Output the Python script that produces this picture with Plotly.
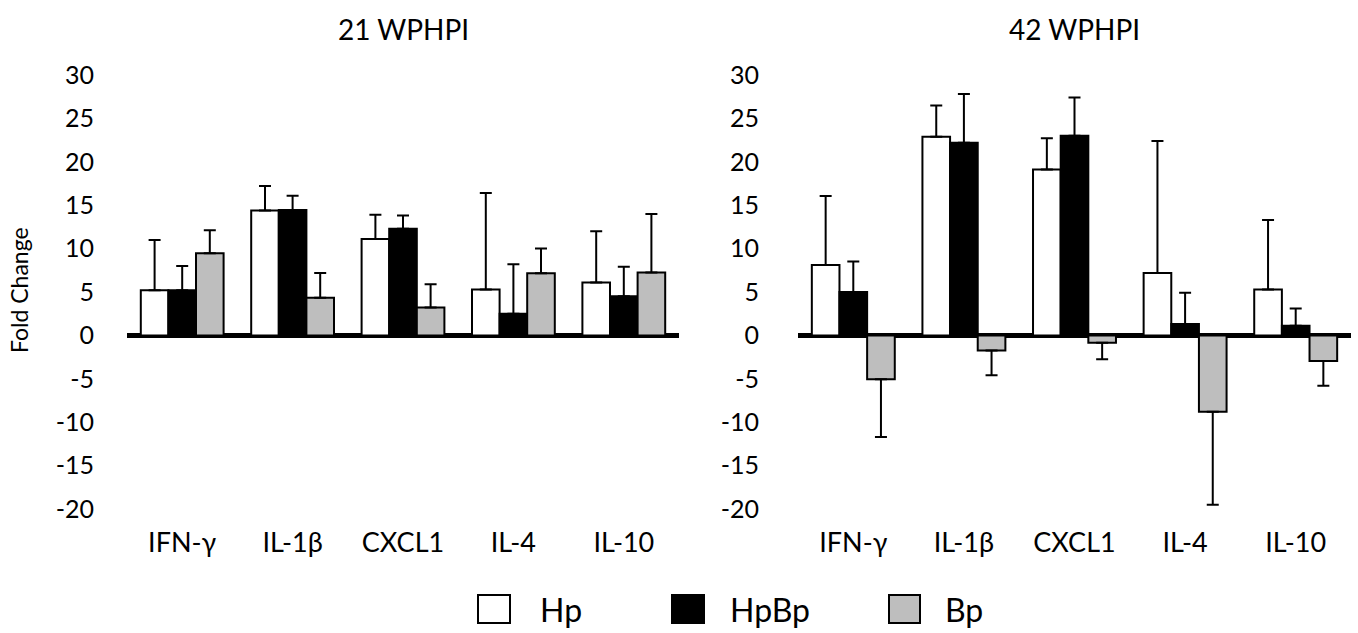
import plotly.graph_objects as go

W, H = 1358, 633

categories = ["IFN-γ", "IL-1β", "CXCL1", "IL-4", "IL-10"]
series_names = ["Hp", "HpBp", "Bp"]
series_colors = ["#ffffff", "#000000", "#bebebe"]

# 21 WPHPI: bar values and error-bar ends
wk21_hp = [5.2, 14.4, 11.1, 5.3, 6.1]
wk21_hp_err = [11.0, 17.2, 13.9, 16.4, 12.0]
wk21_hpbp = [5.2, 14.45, 12.3, 2.5, 4.5]
wk21_hpbp_err = [8.0, 16.1, 13.8, 8.2, 7.9]
wk21_bp = [9.45, 4.35, 3.2, 7.15, 7.25]
wk21_bp_err = [12.1, 7.2, 5.9, 10.0, 14.0]

# 42 WPHPI
wk42_hp = [8.1, 22.9, 19.1, 7.2, 5.3]
wk42_hp_err = [16.05, 26.5, 22.7, 22.4, 13.3]
wk42_hpbp = [5.0, 22.2, 23.0, 1.3, 1.1]
wk42_hpbp_err = [8.5, 27.8, 27.4, 4.9, 3.1]
wk42_bp = [-5.05, -1.75, -0.85, -8.8, -2.95]
wk42_bp_err = [-11.7, -4.6, -2.75, -19.5, -5.8]

panel_titles = ["21 WPHPI", "42 WPHPI"]
y_title = "Fold Change"
y_tickvals = [-20, -15, -10, -5, 0, 5, 10, 15, 20, 25, 30]
y_ticktext = ["-20", "-15", "-10", "-5", "0", "5", "10", "15", "20", "25", "30"]

FONT = "Lato, 'Open Sans', sans-serif"


def fx(p):
    return p / W


def fy(p):
    return 1 - p / H


fig = go.Figure()

panels = [
    ([wk21_hp, wk21_hpbp, wk21_bp], [wk21_hp_err, wk21_hpbp_err, wk21_bp_err], "x", "y"),
    ([wk42_hp, wk42_hpbp, wk42_bp], [wk42_hp_err, wk42_hpbp_err, wk42_bp_err], "x2", "y2"),
]

for vals_list, err_list, xa, ya in panels:
    for name, color, vals, errs in zip(series_names, series_colors, vals_list, err_list):
        plus = [max(e - v, 0) if v >= 0 else 0 for v, e in zip(vals, errs)]
        minus = [max(v - e, 0) if v < 0 else 0 for v, e in zip(vals, errs)]
        fig.add_trace(go.Bar(
            x=categories, y=vals, name=name, xaxis=xa, yaxis=ya,
            marker=dict(color=color, line=dict(color="black", width=2)),
            error_y=dict(type="data", symmetric=False, array=plus, arrayminus=minus,
                         color="black", thickness=2, width=6),
            showlegend=False,
        ))

x_domains = [[fx(127), fx(679)], [fx(798), fx(1351)]]
y_domain = [fy(509), fy(75)]
y_ticklens = [27, 33]

common_x = dict(type="category", showline=False, showgrid=False, zeroline=False,
                ticks="outside", ticklen=10, tickcolor="rgba(0,0,0,0)",
                tickfont=dict(family=FONT, size=27, color="black"),
                automargin=False, fixedrange=True)


def yax(ticklen):
    return dict(range=[-20, 30], tickmode="array", tickvals=y_tickvals, ticktext=y_ticktext,
                showgrid=False, showline=False, zeroline=True, zerolinecolor="black",
                zerolinewidth=5, ticks="outside", ticklen=ticklen,
                tickcolor="rgba(0,0,0,0)",
                tickfont=dict(family=FONT, size=25, color="black"),
                automargin=False, fixedrange=True, domain=y_domain)


annotations = []
title_centers = [(127 + 679) / 2, (798 + 1351) / 2]
for t, cx in zip(panel_titles, title_centers):
    annotations.append(dict(text=t, x=fx(cx), y=fy(29), xref="paper", yref="paper",
                            xanchor="center", yanchor="middle", showarrow=False,
                            font=dict(family=FONT, size=28, color="black")))
annotations.append(dict(text=y_title, x=fx(19), y=fy(290), xref="paper", yref="paper",
                        xanchor="center", yanchor="middle", showarrow=False, textangle=-90,
                        font=dict(family=FONT, size=23, color="black")))

# legend drawn as boxes and labels
legend_boxes = [(478, 510), (672, 704), (889, 920)]
legend_text_x = [538, 728, 943]
shapes = []
for (x0, x1), tx, name, color in zip(legend_boxes, legend_text_x, series_names, series_colors):
    shapes.append(dict(type="rect", xref="paper", yref="paper", x0=fx(x0), x1=fx(x1),
                       y0=fy(623), y1=fy(595), fillcolor=color,
                       line=dict(color="black", width=2)))
    annotations.append(dict(text=name, x=fx(tx), y=fy(609), xref="paper", yref="paper",
                            xanchor="left", yanchor="middle", showarrow=False,
                            font=dict(family=FONT, size=32, color="black")))

fig.update_layout(
    width=W, height=H, autosize=False,
    margin=dict(l=0, r=0, t=0, b=0, pad=0),
    paper_bgcolor="white", plot_bgcolor="white",
    barmode="group", bargap=0.25, bargroupgap=0,
    showlegend=False,
    xaxis=dict(domain=x_domains[0], anchor="y", **common_x),
    xaxis2=dict(domain=x_domains[1], anchor="y2", **common_x),
    yaxis=dict(anchor="x", **yax(y_ticklens[0])),
    yaxis2=dict(anchor="x2", **yax(y_ticklens[1])),
    annotations=annotations,
    shapes=shapes,
    font=dict(family=FONT, color="black"),
)

fig.write_html("out.html", config={"displayModeBar": False})
